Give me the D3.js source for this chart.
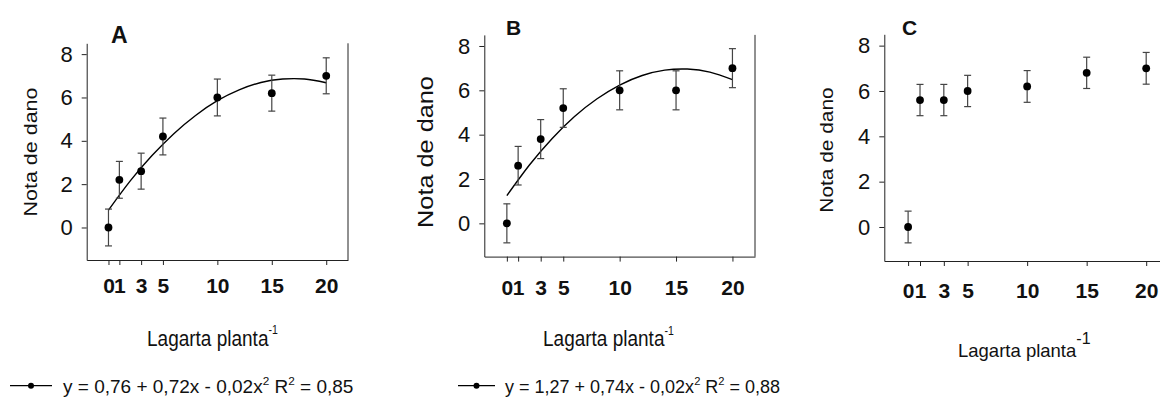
<!DOCTYPE html>
<html>
<head>
<meta charset="utf-8">
<script src="https://cdn.jsdelivr.net/npm/d3@7"></script>
<style>
  html, body { margin: 0; padding: 0; background: #fff; overflow: hidden; }
  svg { display: block; font-family: "Liberation Sans", Arial, sans-serif; }
</style>
</head>
<body>
<script>
// larvae per plant (x) and damage scores (y)
var doses = [0, 1, 3, 5, 10, 15, 20];
var doseLabels = ["0", "1", "3", "5", "10", "15", "20"];
var yTicks = [0, 2, 4, 6, 8];

var meanA = [0, 2.2, 2.6, 4.2, 6.0, 6.2, 7.0];
var errA  = [0.85, 0.85, 0.83, 0.85, 0.85, 0.83, 0.83];
var meanB = [0, 2.6, 3.8, 5.2, 6.0, 6.0, 7.0];
var errB  = [0.88, 0.87, 0.88, 0.87, 0.88, 0.88, 0.88];
var meanC = [0, 5.6, 5.6, 6.0, 6.2, 6.8, 7.0];
var errC  = [0.70, 0.69, 0.69, 0.69, 0.70, 0.69, 0.70];

// fitted curves, read at every 2 larvae
var fitX = [0, 2, 4, 6, 8, 10, 12, 14, 16, 18, 20];
var fitA = [0.80, 2.15, 3.32, 4.33, 5.17, 5.85, 6.35, 6.69, 6.85, 6.85, 6.68];
var fitB = [1.25, 2.63, 3.82, 4.82, 5.62, 6.24, 6.67, 6.91, 6.96, 6.82, 6.48];

var eqA = ["y = 0,76 + 0,72x - 0,02x", "2", " R", "2", " = 0,85"];
var eqB = ["y = 1,27 + 0,74x - 0,02x", "2", " R", "2", " = 0,88"];

(function(w){
	var W = 1160, H = 399;
	var svg = d3.select("body").append("svg").attr("width", W).attr("height", H);

	// stretched text (the original figure is a bit taller than the font)
	function txt(g, x, y, s, size, o) {
		o = o || {};
		var t = g.append("text")
			.attr("transform", "translate(" + x + "," + y + ")" + (o.rot ? " rotate(-90)" : "") +
				" scale(" + (o.rot ? (o.sy || 1) : 1) + "," + (o.rot ? 1 : (o.sy || 1)) + ")")
			.attr("font-size", size)
			.attr("text-anchor", o.anchor || "start")
			.attr("font-weight", o.bold ? "bold" : null)
			.attr("fill", "#111");
		if (typeof s === "string") t.text(s);
		return t;
	}

	var panels = [
		{ id: "A", mean: meanA, err: errA, fit: fitA,
		  l: 86.7, r: 348, t: 43.3, b: 260,
		  letter: [111, 43, 23], ylab: [36.5, 152, 19, 1.13],
		  xlab: [147, 345.7, 19, 1.15], sup: [10.5, -10], tickY: 293 },
		{ id: "B", mean: meanB, err: errB, fit: fitB,
		  l: 484.3, r: 755, t: 34.9, b: 256.6,
		  letter: [506, 35, 21], ylab: [433, 152, 22, 1.15],
		  xlab: [543, 346, 19, 1.15], sup: [10.5, -10], tickY: 295 },
		{ id: "C", mean: meanC, err: errC, fit: null,
		  l: 884.3, r: 1170, t: 34.3, b: 261,
		  letter: [902, 35, 21], ylab: [833, 150, 18.5, 1.13],
		  xlab: [958, 356.7, 18.5, 1.0], sup: [16, -13], tickY: 298 }
	];

	panels.forEach(function(p){
		var g = svg.append("g");
		var x = d3.scaleLinear().domain([-2, 22]).range([p.l, p.r]);
		var y = d3.scaleLinear().domain([-1.5, 8.5]).range([p.b, p.t]);

		// axes
		var ya = g.append("g").attr("transform", "translate(" + p.l + ",0)")
			.call(d3.axisLeft(y).tickValues(yTicks).tickSize(5).tickSizeOuter(0).tickPadding(9));
		ya.selectAll("text").attr("font-size", 22).attr("fill", "#111").attr("font-family", null);
		var xa = g.append("g").attr("transform", "translate(0," + p.b + ")")
			.call(d3.axisBottom(x).tickValues(doses).tickFormat(function(d, i){ return doseLabels[i]; })
				.tickSize(5).tickSizeOuter(0));
		xa.selectAll("text").attr("font-size", 21).attr("font-weight", "bold").attr("fill", "#111")
			.attr("font-family", null)
			.attr("y", null).attr("dy", null).attr("transform", "translate(0," + (p.tickY - p.b) + ")");
		g.selectAll(".domain, .tick line").attr("stroke", "#222");
		g.append("line").attr("x1", p.r).attr("x2", p.r).attr("y1", p.t).attr("y2", p.b)
			.attr("stroke", "#222");

		// fitted curve
		if (p.fit) {
			g.append("path")
				.datum(fitX.map(function(v, i){ return [v, p.fit[i]]; }))
				.attr("fill", "none").attr("stroke", "#000").attr("stroke-width", 1.4)
				.attr("d", d3.line().curve(d3.curveNatural)
					.x(function(d){ return x(d[0]); }).y(function(d){ return y(d[1]); }));
		}

		// error bars + means
		var pts = doses.map(function(v, i){ return { x: v, m: p.mean[i], e: p.err[i] }; });
		var eb = g.selectAll(".eb").data(pts).enter().append("g").attr("class", "eb")
			.attr("stroke", "#444").attr("stroke-width", 1.2);
		eb.append("line").attr("x1", function(d){ return x(d.x); }).attr("x2", function(d){ return x(d.x); })
			.attr("y1", function(d){ return y(d.m - d.e); }).attr("y2", function(d){ return y(d.m + d.e); });
		eb.append("line").attr("x1", function(d){ return x(d.x) - 3.5; }).attr("x2", function(d){ return x(d.x) + 3.5; })
			.attr("y1", function(d){ return y(d.m + d.e); }).attr("y2", function(d){ return y(d.m + d.e); });
		eb.append("line").attr("x1", function(d){ return x(d.x) - 3.5; }).attr("x2", function(d){ return x(d.x) + 3.5; })
			.attr("y1", function(d){ return y(d.m - d.e); }).attr("y2", function(d){ return y(d.m - d.e); });
		g.selectAll(".pt").data(pts).enter().append("circle").attr("class", "pt")
			.attr("cx", function(d){ return x(d.x); }).attr("cy", function(d){ return y(d.m); })
			.attr("r", 3.9).attr("fill", "#000");

		// texts
		txt(g, p.letter[0], p.letter[1], p.id, p.letter[2], { bold: true });
		txt(g, p.ylab[0], p.ylab[1], "Nota de dano", p.ylab[2], { rot: true, anchor: "middle", sy: p.ylab[3] });
		var xt = txt(g, p.xlab[0], p.xlab[1], null, p.xlab[2], { sy: p.xlab[3] });
		xt.append("tspan").text("Lagarta planta");
		xt.append("tspan").attr("font-size", p.sup[0]).attr("dy", p.sup[1]).text("-1");
	});

	// legends under A and B
	function legend(x0, x1, tx, eq, size) {
		var g = svg.append("g");
		var ly = 385.7;
		g.append("line").attr("x1", x0).attr("x2", x1).attr("y1", ly).attr("y2", ly)
			.attr("stroke", "#000").attr("stroke-width", 1.2);
		g.append("circle").attr("cx", (x0 + x1) / 2).attr("cy", ly).attr("r", 3).attr("fill", "#000");
		var t = txt(g, tx, 393.3, null, size);
		eq.forEach(function(s, i){
			var sup = i % 2 === 1;
			t.append("tspan").attr("font-size", sup ? size * 0.62 : size)
				.attr("dy", i === 0 ? 0 : (sup ? -8 : 8)).text(s);
		});
	}
	legend(10, 52, 63, eqA, 19);
	legend(458, 495, 505, eqB, 18);
})(window);
</script>
</body>
</html>
